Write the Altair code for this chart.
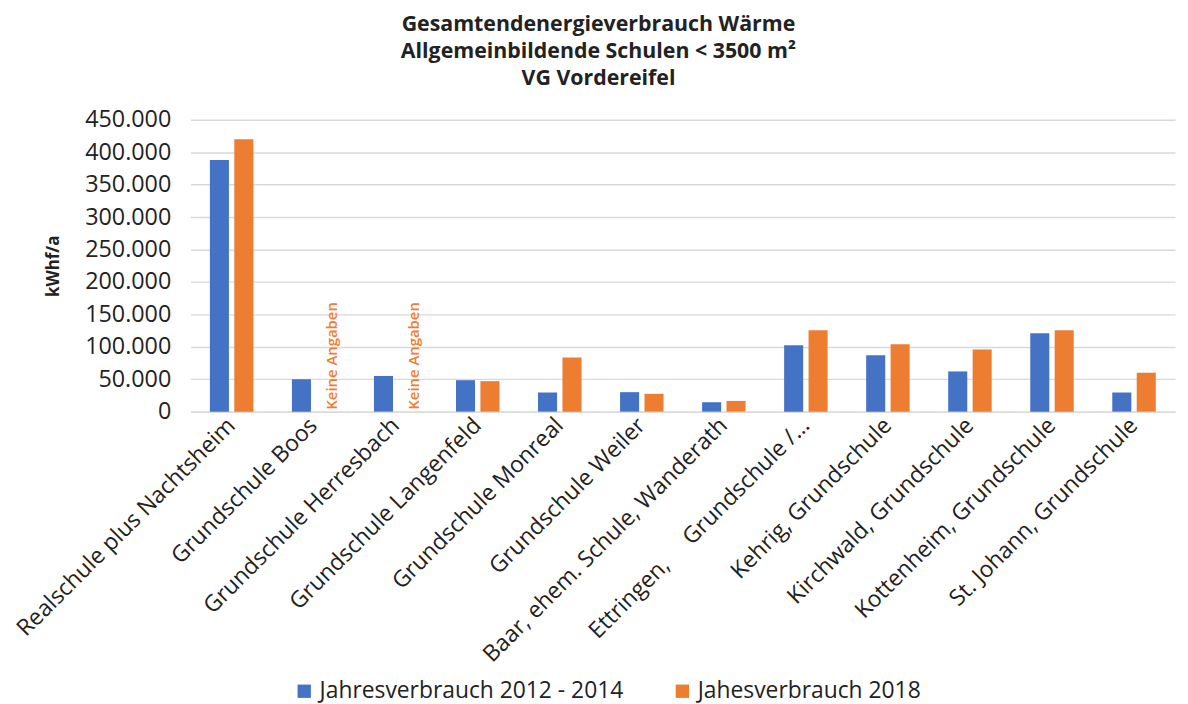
import altair as alt
import pandas as pd

schools = [
    "Realschule plus Nachtsheim",
    "Grundschule Boos",
    "Grundschule Herresbach",
    "Grundschule Langenfeld",
    "Grundschule Monreal",
    "Grundschule Weiler",
    "Baar, ehem. Schule, Wanderath",
    "Ettringen,\u00a0\u00a0\u00a0\u00a0 Grundschule /…",
    "Kehrig, Grundschule",
    "Kirchwald, Grundschule",
    "Kottenheim, Grundschule",
    "St. Johann, Grundschule",
]
series_names = ["Jahresverbrauch 2012 - 2014", "Jahesverbrauch 2018"]
values_2012_2014 = [388000, 50000, 55000, 48500, 29500, 30000, 14500, 102500, 87000, 62000, 121000, 29500]
values_2018 = [420000, None, None, 47000, 83500, 27500, 16500, 125500, 104000, 96000, 125500, 60000]
no_data_label = "Keine Angaben"
y_ticks = [0, 50000, 100000, 150000, 200000, 250000, 300000, 350000, 400000, 450000]

rows = []
for i, s in enumerate(schools):
    rows.append({"school": s, "series": series_names[0], "value": values_2012_2014[i], "order": i})
    rows.append({"school": s, "series": series_names[1], "value": values_2018[i], "order": i})
df = pd.DataFrame(rows)

FONT = "Open Sans"
BLUE = "#4472C4"
ORANGE = "#ED7D31"

x_enc = alt.X(
    "school:N",
    sort=schools,
    title=None,
    scale=alt.Scale(paddingInner=0.47, paddingOuter=0.235),
    axis=alt.Axis(
        labelAngle=-45,
        labelAlign="right",
        labelBaseline="middle",
        labelFontSize=23,
        labelFont=FONT,
        labelColor="#222222",
        labelLimit=0,
        labelOverlap=False,
        labelPadding=10,
        ticks=False,
        domainColor="#d9d9d9",
        domainWidth=1.5,
    ),
)
xoff = alt.XOffset("series:N", sort=series_names, scale=alt.Scale(domain=series_names, paddingInner=0.22))

y_enc = alt.Y(
    "value:Q",
    scale=alt.Scale(domain=[0, 450000], nice=False),
    axis=alt.Axis(
        values=y_ticks,
        format=",d",
        title="kWhf/a",
        titleFont=FONT,
        titleFontSize=17,
        titleFontWeight="bold",
        titleColor="#222222",
        titlePadding=22,
        labelFontSize=23.5,
        labelFont=FONT,
        labelColor="#222222",
        labelPadding=20,
        labelOverlap=False,
        labelFlush=False,
        ticks=False,
        domain=False,
        gridColor="#d9d9d9",
        gridWidth=1.5,
    ),
)

bars = alt.Chart(df).mark_bar().encode(
    x=x_enc,
    xOffset=xoff,
    y=y_enc,
    color=alt.Color(
        "series:N",
        scale=alt.Scale(domain=series_names, range=[BLUE, ORANGE]),
        legend=alt.Legend(
            title=None,
            orient="none",
            legendX=103,
            legendY=564,
            direction="horizontal",
            symbolType="square",
            symbolSize=180,
            symbolStrokeWidth=0,
            labelFontSize=23,
            labelFont=FONT,
            labelColor="#222222",
            labelLimit=0,
            columnPadding=47,
        ),
    ),
)

missing = alt.Chart(df).transform_filter("datum.value == null").transform_calculate(
    label=f"'{no_data_label}'", value="0"
).mark_text(
    angle=270, align="left", baseline="middle", color=ORANGE, fontSize=15, font=FONT, fontWeight=600, dx=2, dy=6
).encode(
    x=x_enc,
    xOffset=xoff,
    y=y_enc,
    text="label:N",
)

chart = alt.layer(bars, missing).properties(
    width=992,
    height=294,
    padding={"left": 4, "top": 3, "right": 5, "bottom": 12},
    title=alt.TitleParams(
        text=["Gesamtendenergieverbrauch Wärme", "Allgemeinbildende Schulen < 3500 m²", "VG Vordereifel"],
        font=FONT,
        fontSize=21.5,
        fontWeight="bold",
        color="#222222",
        anchor="middle",
        frame="group",
        dx=-85,
        lineHeight=27,
        offset=19,
    ),
).configure_view(stroke=None)

chart.save(
    "out.html",
    embed_options={
        "renderer": "svg",
        "actions": False,
        "formatLocale": {"decimal": ",", "thousands": ".", "grouping": [3], "currency": ["", " €"]},
    },
)
